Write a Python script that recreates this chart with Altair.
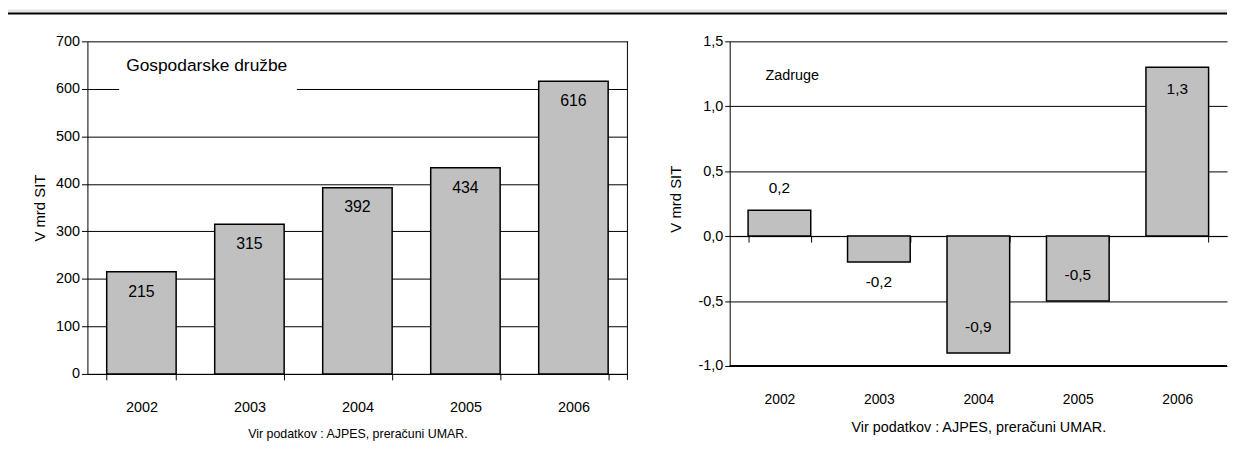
import altair as alt
import pandas as pd

years = ["2002", "2003", "2004", "2005", "2006"]
druzbe = [215, 315, 392, 434, 616]
zadruge = [0.2, -0.2, -0.9, -0.5, 1.3]

left_label = "Gospodarske družbe"
right_label = "Zadruge"
y_title = "V mrd SIT"
x_title = "Vir podatkov : AJPES, preračuni UMAR."

FONT = "Liberation Sans, Arial, sans-serif"
BAR_FILL = "#c0c0c0"

def fmt(v):
    s = f"{abs(v):.1f}".replace(".", ",")
    return ("-" if v < 0 else "") + s

df_l = pd.DataFrame({"year": years, "value": druzbe})
df_l["label"] = [str(v) for v in druzbe]
df_r = pd.DataFrame({"year": years, "value": zadruge})
df_r["label"] = [fmt(v) for v in zadruge]
df_r["place"] = ["out" if abs(v) < 0.3 else "in" for v in zadruge]
df_r["sign"] = ["pos" if v >= 0 else "neg" for v in zadruge]
one = pd.DataFrame({"k": [0]})

# ---------------- left panel ----------------
LW, LH = 544, 335
xl = alt.X("year:N", title=x_title,
           scale=alt.Scale(paddingInner=0.357, paddingOuter=0.1785),
           axis=alt.Axis(labelAngle=0, tickBand="extent", tickSize=6, tickColor="black",
                         domainColor="black", labelFontSize=14.5, labelPadding=21,
                         titleFontSize=12.5, titleFontWeight="normal",
                         titlePadding=14, labelColor="black", titleColor="black"))
yl = alt.Y("value:Q", title=y_title,
           scale=alt.Scale(domain=[0, 700], nice=False),
           axis=alt.Axis(values=[0, 100, 200, 300, 400, 500, 600, 700], grid=True,
                         gridColor="black", gridWidth=1, tickSize=6, tickColor="black",
                         domainColor="black", labelFontSize=14.5, labelPadding=2,
                         titleFontSize=15, titleFontWeight="normal", titleX=-40,
                         titleY=LH / 2, labelColor="black", titleColor="black"))

base_l = alt.Chart(df_l)
one_c = alt.Chart(one)
band_top = one_c.mark_rect(color="#e4e4e4").encode(
    x=alt.value(-80), x2=alt.value(1148), y=alt.value(-32), y2=alt.value(-29))
band_line = one_c.mark_rect(color="black").encode(
    x=alt.value(-80), x2=alt.value(1148), y=alt.value(-29), y2=alt.value(-27))
bars_l = base_l.mark_bar(fill=BAR_FILL, stroke="black", strokeWidth=1.5).encode(x=xl, y=yl)
box_l = one_c.mark_rect(fill="white").encode(
    x=alt.value(32), x2=alt.value(211), y=alt.datum(668), y2=alt.datum(578))
ann_l = one_c.mark_text(align="left", baseline="middle", fontSize=17.5, font=FONT,
                        color="black").encode(
    x=alt.value(39), y=alt.datum(648), text=alt.datum(left_label))
lab_l = base_l.mark_text(baseline="middle", dy=20, fontSize=16, font=FONT,
                         color="black").encode(x="year:N", y="value:Q", text="label:N")
frame_l = one_c.mark_rule(color="black", strokeWidth=1).encode(
    x=alt.value(LW), y=alt.value(0), y2=alt.value(LH + 6))

left = alt.layer(band_top, band_line, bars_l, box_l, ann_l, lab_l, frame_l).properties(
    width=LW, height=LH)

# ---------------- right panel ----------------
RW, RH = 501, 327
rdom = [-1.0, 1.5]
zero_from_bottom = RH * (0 - rdom[0]) / (rdom[1] - rdom[0])

xr = alt.X("year:N", title=x_title,
           scale=alt.Scale(paddingInner=0.37, paddingOuter=0.185),
           axis=alt.Axis(labelAngle=0, tickBand="extent", tickSize=6, tickColor="black",
                         domainColor="black", offset=-zero_from_bottom,
                         labelFontSize=14, labelPadding=zero_from_bottom + 21,
                         titleFontSize=14.5, titleFontWeight="normal", titlePadding=14,
                         labelColor="black", titleColor="black"))
yr = alt.Y("value:Q", title=y_title,
           scale=alt.Scale(domain=rdom, nice=False, zero=False),
           axis=alt.Axis(values=[-1.0, -0.5, 0.0, 0.5, 1.0, 1.5], grid=True,
                         gridColor="black", gridWidth=1, tickSize=5, tickColor="black",
                         domainColor="black", labelFontSize=14.5, labelPadding=2,
                         labelExpr="(datum.value < 0 ? '-' : '') + replace(format(abs(datum.value), '.1f'), '.', ',')",
                         titleFontSize=15, titleFontWeight="normal", titleX=-47,
                         titleY=RH / 2 - 5, labelColor="black", titleColor="black"))

base_r = alt.Chart(df_r)
bars_r = base_r.mark_bar(fill=BAR_FILL, stroke="black", strokeWidth=1.5).encode(x=xr, y=yr)
bottom_r = one_c.mark_rule(color="black", strokeWidth=2).encode(y=alt.datum(rdom[0]))
ann_r = one_c.mark_text(align="left", baseline="middle", fontSize=14.5, font=FONT,
                        color="black").encode(
    x=alt.value(36), y=alt.datum(1.232), text=alt.datum(right_label))

def rlab(sign, place, dy):
    return base_r.transform_filter(
        (alt.datum.sign == sign) & (alt.datum.place == place)
    ).mark_text(baseline="middle", dy=dy, fontSize=15.5, font=FONT, color="black").encode(
        x="year:N", y="value:Q", text="label:N")

right = alt.layer(bars_r, bottom_r, ann_r,
                  rlab("pos", "in", 22), rlab("pos", "out", -22),
                  rlab("neg", "in", -26), rlab("neg", "out", 20)).properties(
    width=RW, height=RH)

chart = alt.hconcat(left, right, spacing=103, bounds="flush").properties(
    padding=0
).configure_view(stroke=None).configure_axis(
    labelFont=FONT, titleFont=FONT
).configure_text(font=FONT)

chart.save("out.html", embed_options={"renderer": "svg", "actions": False})
